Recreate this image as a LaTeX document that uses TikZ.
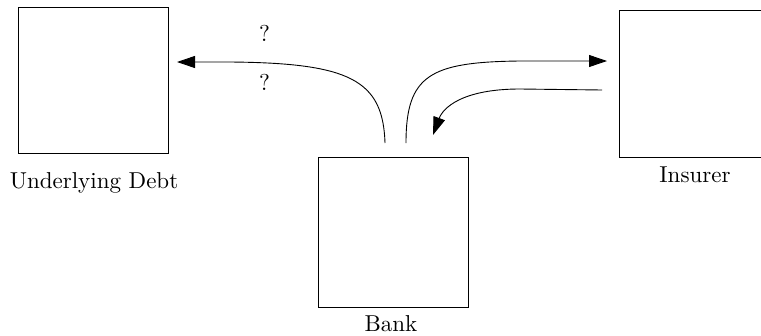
\documentclass[tikz,border=0pt]{standalone}
\usetikzlibrary{arrows.meta}
\newcommand{\bigtxt}[1]{\scalebox{2.3}{\fontsize{10}{12}\selectfont #1}}
\begin{document}
\begin{tikzpicture}[x=1pt,y=-1pt,
  box/.style={draw,line width=0.9pt,inner sep=0pt,minimum width=150pt},
  lbl/.style={anchor=base,inner sep=0pt},
  flow/.style={line width=0.9pt,-{Triangle[length=18pt,width=12pt]}}]
\clip (0,0) rectangle (761,335);
% boxes
\node[box,minimum height=146pt] (debt) at (93,80) {};
\node[box,minimum height=150pt] (bank) at (393,232) {};
\node[box,minimum height=147pt] (ins) at (694,83.5) {};
% labels
\node[lbl] (ldebt) at (94,188) {\bigtxt{Underlying Debt}};
\node[lbl] (lbank) at (391,331.5) {\bigtxt{Bank}};
\node[lbl] (lins) at (695,182) {\bigtxt{Insurer}};
\node[lbl] (q1) at (264.5,41) {\bigtxt{?}};
\node[lbl] (q2) at (264.5,90) {\bigtxt{?}};
% connector ends
\coordinate (a0) at (385,143);
\coordinate (a1) at (177,62);
\coordinate (b0) at (406,143);
\coordinate (b1) at (607,61);
\coordinate (c0) at (602,90);
\coordinate (c1) at (433,135);
\draw[flow] (a0) .. controls (383,80) and (350,63) .. (230,62) -- (a1);
\draw[flow] (b0) .. controls (406,75) and (430,62) .. (520,61) -- (b1);
\draw[flow] (c0) -- (520,89) .. controls (462,89) and (443,108) .. (c1);
\end{tikzpicture}
\end{document}
